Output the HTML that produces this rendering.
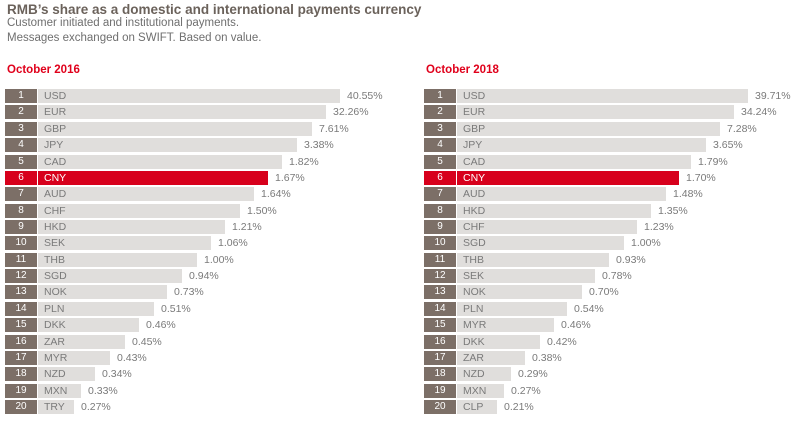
<!DOCTYPE html><html><head><meta charset="utf-8"><style>
body{margin:0;width:793px;height:421px;background:#fff;position:relative;overflow:hidden;font-family:"Liberation Sans",sans-serif}
.t{position:absolute;left:7px;top:2px;font-size:13.5px;font-weight:bold;color:#6b625b}
.s{position:absolute;left:7px;font-size:11.5px;color:#6f6f6f}
.h{position:absolute;top:64px;font-size:11.5px;font-weight:bold;color:#e0001b}
.r{position:absolute;height:14px}
.n{position:absolute;left:0;top:0;height:14px;width:32px;background:#7c6f67;color:#fff;font-size:10px;line-height:14px;text-align:center}
.b{position:absolute;left:33px;top:0;height:14px;background:#e0dedc;color:#7a7a7a;font-size:10.5px;line-height:14px;padding-left:6px;box-sizing:border-box;white-space:nowrap}
.v{position:absolute;top:0;font-size:10.5px;line-height:14px;color:#7a7a7a}
.red .n,.red .b{background:#d7001c;color:#fff}
</style></head><body>
<div class="t">RMB’s share as a domestic and international payments currency</div>
<div class="s" style="top:17px">Customer initiated and institutional payments.</div>
<div class="s" style="top:32px">Messages exchanged on SWIFT. Based on value.</div>
<div class="h" style="left:7px">October 2016</div>
<div class="h" style="left:426px">October 2018</div>
<div id="c"></div>
<script>
var L=[["USD","40.55%",340],["EUR","32.26%",326],["GBP","7.61%",312],["JPY","3.38%",297],["CAD","1.82%",282],["CNY","1.67%",268],["AUD","1.64%",254],["CHF","1.50%",240],["HKD","1.21%",225],["SEK","1.06%",211],["THB","1.00%",197],["SGD","0.94%",182],["NOK","0.73%",167],["PLN","0.51%",154],["DKK","0.46%",139],["ZAR","0.45%",125],["MYR","0.43%",110],["NZD","0.34%",95],["MXN","0.33%",81],["TRY","0.27%",74]];
var R=[["USD","39.71%",748],["EUR","34.24%",734],["GBP","7.28%",720],["JPY","3.65%",706],["CAD","1.79%",691],["CNY","1.70%",679],["AUD","1.48%",666],["HKD","1.35%",651],["CHF","1.23%",637],["SGD","1.00%",624],["THB","0.93%",609],["SEK","0.78%",595],["NOK","0.70%",582],["PLN","0.54%",567],["MYR","0.46%",554],["DKK","0.42%",540],["ZAR","0.38%",525],["NZD","0.29%",511],["MXN","0.27%",504],["CLP","0.21%",497]];
var h="";
function g(d,x0){d.forEach(function(e,i){var y=89+i*16.37;var w=e[2]-x0;
h+='<div class="r'+(e[0]=="CNY"?' red':'')+'" style="left:'+x0+'px;top:'+y.toFixed(1)+'px;width:'+(w+60)+'px"><div class="n">'+(i+1)+'</div><div class="b" style="width:'+(w-33)+'px">'+e[0]+'</div><div class="v" style="left:'+(w+7)+'px">'+e[1]+'</div></div>';});}
g(L,5);g(R,424);
document.getElementById("c").innerHTML=h;
</script>
</body></html>
